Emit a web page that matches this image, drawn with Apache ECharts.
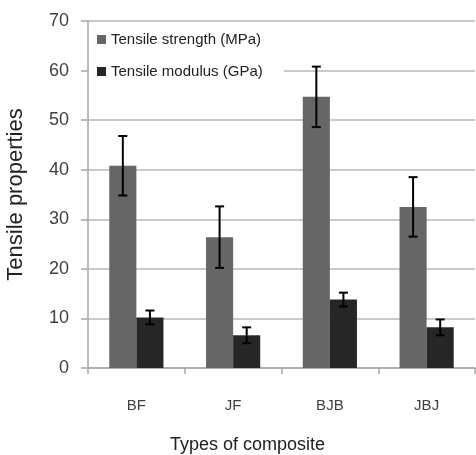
<!DOCTYPE html>
<html>
<head>
<meta charset="utf-8">
<script src="https://cdn.jsdelivr.net/npm/echarts@6/dist/echarts.min.js"></script>
<style>
html,body{margin:0;padding:0;background:#fff;}
#chart{width:476px;height:455px;}
</style>
</head>
<body>
<div id="chart"></div>
<script>
var categories = ['BF', 'JF', 'BJB', 'JBJ'];
var strength = [40.8, 26.4, 54.7, 32.5];
var strengthErr = [6.0, 6.2, 6.1, 6.0];
var modulus = [10.2, 6.6, 13.8, 8.2];
var modulusErr = [1.4, 1.6, 1.4, 1.6];
var yTicks = [0, 10, 20, 30, 40, 50, 60, 70];

var BAR_FRAC = 0.28;

function errData(vals, errs) {
	var out = [];
	for (var i = 0; i < vals.length; i++) {
		out.push([i, vals[i] - errs[i], vals[i] + errs[i]]);
	}
	return out;
}

// 误差线: sign -1 左边柱子, 1 右边柱子
function makeErrRender(sign) {
	return function(params, api) {
		var xi = api.value(0);
		var lo = api.coord([xi, api.value(1)]);
		var hi = api.coord([xi, api.value(2)]);
		var band = api.size([1, 0])[0];
		var x = lo[0] + sign * band * BAR_FRAC / 2;
		var cap = 4.5;
		var st = { stroke: '#000', lineWidth: 2 };
		return {
			type: 'group',
			children: [
				{ type: 'line', shape: { x1: x, y1: lo[1], x2: x, y2: hi[1] }, style: st },
				{ type: 'line', shape: { x1: x - cap, y1: hi[1], x2: x + cap, y2: hi[1] }, style: st },
				{ type: 'line', shape: { x1: x - cap, y1: lo[1], x2: x + cap, y2: lo[1] }, style: st }
			]
		};
	};
}

var myChart = echarts.init(document.getElementById('chart'));
var option = {
	animation: false,
	backgroundColor: '#fff',
	textStyle: { fontFamily: 'Liberation Sans, Arial, sans-serif' },
	grid: { left: 88, right: 1, top: 21, bottom: 87, outerBoundsMode: 'none' },
	legend: {
		orient: 'vertical',
		left: 89,
		top: 24,
		padding: [8, 21, 8, 8],
		icon: 'rect',
		itemWidth: 9,
		itemHeight: 9,
		itemGap: 17,
		backgroundColor: '#fff',
		textStyle: { fontSize: 15, color: '#222' },
		data: ['Tensile strength (MPa)', 'Tensile modulus (GPa)']
	},
	xAxis: {
		type: 'category',
		data: categories,
		name: 'Types of composite',
		nameLocation: 'middle',
		nameGap: 68,
		nameTextStyle: { fontSize: 18, color: '#222', padding: [0, 68, 0, 0] },
		axisLine: { lineStyle: { color: '#a6a6a6', width: 1.5 } },
		axisTick: { show: true, length: 6, lineStyle: { color: '#a6a6a6', width: 1.5 } },
		axisLabel: { fontSize: 15, color: '#404040', margin: 30 }
	},
	yAxis: {
		type: 'value',
		min: 0,
		max: 70,
		interval: 10,
		name: 'Tensile properties',
		nameLocation: 'middle',
		nameGap: 61,
		nameTextStyle: { fontSize: 22, color: '#222' },
		axisLine: { show: true, lineStyle: { color: '#a6a6a6', width: 1.5 } },
		axisTick: { show: true, length: 7, lineStyle: { color: '#a6a6a6', width: 1.5 } },
		axisLabel: { fontSize: 18, color: '#404040', margin: 19,
			formatter: function(v) { return yTicks.indexOf(v) >= 0 ? String(v) : ''; } },
		splitLine: { lineStyle: { color: '#b8b8b8', width: 1.5 } }
	},
	series: [
		{
			name: 'Tensile strength (MPa)',
			type: 'bar',
			barWidth: (BAR_FRAC * 100) + '%',
			barGap: '0%',
			itemStyle: { color: '#666666' },
			data: strength
		},
		{
			name: 'Tensile modulus (GPa)',
			type: 'bar',
			barWidth: (BAR_FRAC * 100) + '%',
			barGap: '0%',
			itemStyle: { color: '#262626' },
			data: modulus
		},
		{
			type: 'custom',
			renderItem: makeErrRender(-1),
			encode: { x: 0, y: [1, 2] },
			data: errData(strength, strengthErr),
			z: 5
		},
		{
			type: 'custom',
			renderItem: makeErrRender(1),
			encode: { x: 0, y: [1, 2] },
			data: errData(modulus, modulusErr),
			z: 5
		}
	]
};
myChart.setOption(option);
</script>
</body>
</html>
